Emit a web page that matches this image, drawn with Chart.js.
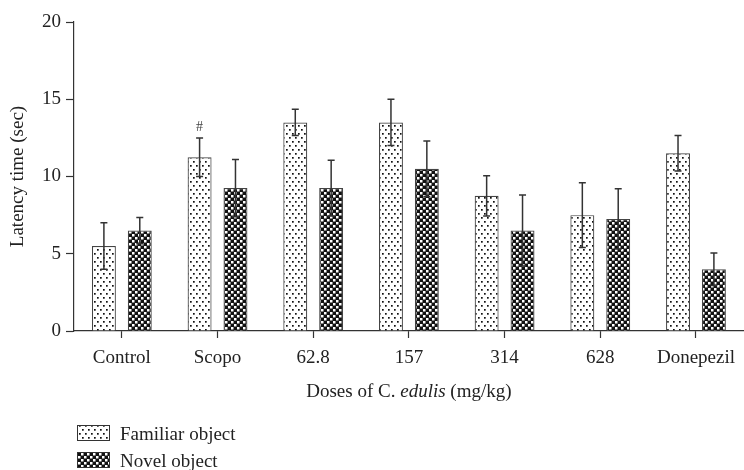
<!DOCTYPE html>
<html>
<head>
<meta charset="utf-8">
<script src="https://cdn.jsdelivr.net/npm/chart.js@4.4.1/dist/chart.umd.min.js"></script>
<style>
  html, body { margin: 0; padding: 0; background: #fff; }
  #wrap { position: relative; width: 744px; height: 470px; }
</style>
</head>
<body>
<div id="wrap"><canvas id="chart1"></canvas></div>
<script>
// data
var doses = ['Control', 'Scopo', '62.8', '157', '314', '628', 'Donepezil'];
var familiar = [5.5, 11.25, 13.5, 13.5, 8.75, 7.5, 11.5];
var familiarErr = [1.5, 1.25, 0.85, 1.5, 1.3, 2.1, 1.15];
var novel = [6.5, 9.25, 9.25, 10.5, 6.5, 7.25, 4.0];
var novelErr = [0.85, 1.85, 1.8, 1.8, 2.3, 1.95, 1.05];
var familiarMarks = ['', '#', '', '', '', '', ''];
var yTicks = [0, 5, 10, 15, 20];

var serif = '"Liberation Serif", "DejaVu Serif", serif';
var ink = '#222';
var fontSize = 19;

// fill patterns for the bars
function dotPattern() {
	var c = document.createElement('canvas');
	c.width = 6; c.height = 8;
	var g = c.getContext('2d');
	g.fillStyle = '#fff';
	g.fillRect(0, 0, 6, 8);
	g.fillStyle = '#111';
	g.fillRect(1, 1, 1.7, 1.7);
	g.fillRect(4, 5, 1.7, 1.7);
	return g.createPattern(c, 'repeat');
}
function checkPattern() {
	var c = document.createElement('canvas');
	c.width = 6; c.height = 6;
	var g = c.getContext('2d');
	g.fillStyle = '#111';
	g.fillRect(0, 0, 6, 6);
	g.fillStyle = '#fff';
	g.fillRect(0, 0, 2.5, 2.5);
	g.fillRect(3, 3, 2.5, 2.5);
	return g.createPattern(c, 'repeat');
}
var dots = dotPattern();
var checks = checkPattern();

var errors = [familiarErr, novelErr];
var marks = [familiarMarks, null];

var errorBars = {
	id: 'errorBars',
	afterDatasetsDraw: function(chart) {
		var ctx = chart.ctx;
		var y = chart.scales.y;
		ctx.save();
		ctx.strokeStyle = '#333';
		ctx.lineWidth = 1.5;
		chart.data.datasets.forEach(function(ds, i) {
			var meta = chart.getDatasetMeta(i);
			meta.data.forEach(function(bar, j) {
				var v = ds.data[j], e = errors[i][j];
				var top = y.getPixelForValue(v + e);
				var bot = y.getPixelForValue(v - e);
				ctx.beginPath();
				ctx.moveTo(bar.x, top); ctx.lineTo(bar.x, bot);
				ctx.moveTo(bar.x - 3.5, top); ctx.lineTo(bar.x + 3.5, top);
				ctx.moveTo(bar.x - 3.5, bot); ctx.lineTo(bar.x + 3.5, bot);
				ctx.stroke();
				if (marks[i] && marks[i][j]) {
					ctx.fillStyle = '#444';
					ctx.font = '14px ' + serif;
					ctx.textAlign = 'center';
					ctx.textBaseline = 'alphabetic';
					ctx.fillText(marks[i][j], bar.x, top - 7);
				}
			});
		});
		ctx.restore();
	}
};

// x title with italic species name, and the stacked legend underneath
var extras = {
	id: 'extras',
	afterDraw: function(chart) {
		var ctx = chart.ctx;
		var area = chart.chartArea;
		ctx.save();
		ctx.fillStyle = ink;
		ctx.textBaseline = 'alphabetic';
		var parts = [['Doses of ', ''], ['C. ', ''], ['edulis', 'italic '], [' (mg/kg)', '']];
		var total = 0;
		parts.forEach(function(p) {
			ctx.font = p[1] + fontSize + 'px ' + serif;
			total += ctx.measureText(p[0]).width;
		});
		var x = (area.left + area.right) / 2 - total / 2;
		parts.forEach(function(p) {
			ctx.font = p[1] + fontSize + 'px ' + serif;
			ctx.fillText(p[0], x, 397);
			x += ctx.measureText(p[0]).width;
		});

		ctx.font = fontSize + 'px ' + serif;
		chart.data.datasets.forEach(function(ds, i) {
			var by = 425 + i * 27;
			ctx.fillStyle = ds.backgroundColor;
			ctx.fillRect(77, by, 33, 16);
			ctx.strokeStyle = '#333';
			ctx.lineWidth = 1;
			ctx.strokeRect(77.5, by + 0.5, 32, 15);
			ctx.fillStyle = ink;
			ctx.fillText(ds.label, 120, by + 15);
		});
		ctx.restore();
	}
};

var c1 = document.getElementById('chart1').getContext('2d');
var latencyChart = new Chart(c1, {
	type: 'bar',
	data: {
		labels: doses,
		datasets: [{
			label: 'Familiar object',
			backgroundColor: dots,
			borderColor: '#444',
			borderWidth: 1.2,
			data: familiar
		}, {
			label: 'Novel object',
			backgroundColor: checks,
			borderColor: '#444',
			borderWidth: 1.2,
			data: novel
		}]
	},
	options: {
		maintainAspectRatio: false,
		animation: false,
		layout: { padding: { top: 22, right: 0, bottom: 0, left: 0 } },
		categoryPercentage: 0.75,
		barPercentage: 0.667,
		plugins: {
			legend: { display: false },
			tooltip: { enabled: false }
		},
		scales: {
			x: {
				afterFit: function(s) { s.height = 139; },
				border: { color: '#333', width: 1.2 },
				grid: { offset: false, drawOnChartArea: false, tickLength: 7, color: '#333', tickWidth: 1.2 },
				ticks: { color: ink, padding: 9, font: { family: serif, size: fontSize } }
			},
			y: {
				min: 0,
				max: 20,
				afterFit: function(s) { s.width = 74; },
				afterBuildTicks: function(s) { s.ticks = yTicks.map(function(v) { return { value: v }; }); },
				border: { color: '#333', width: 1.2 },
				grid: { drawOnChartArea: false, tickLength: 8, color: '#333', tickWidth: 1.2 },
				ticks: { color: ink, padding: 5, font: { family: serif, size: fontSize } },
				title: {
					display: true,
					text: 'Latency time (sec)',
					color: ink,
					padding: { top: 7, bottom: 0 },
					font: { family: serif, size: fontSize }
				}
			}
		}
	},
	plugins: [errorBars, extras]
});
</script>
</body>
</html>
